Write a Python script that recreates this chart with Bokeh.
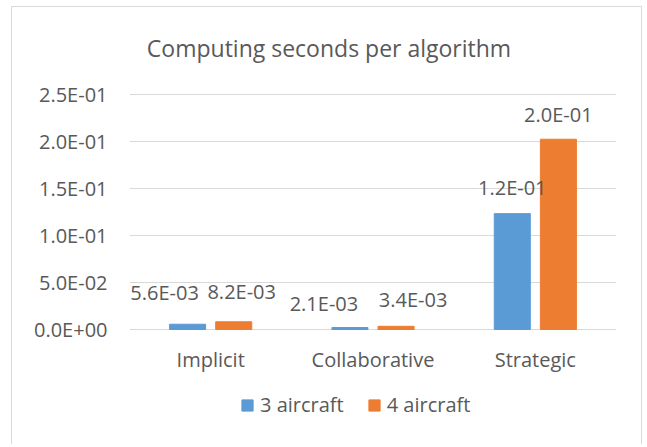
from bokeh.plotting import figure
from bokeh.models import (ColumnDataSource, FactorRange, Range1d, LabelSet, Label,
                          Legend, LegendItem, FixedTicker)
from bokeh.core.properties import value
from bokeh.transform import dodge
from bokeh.embed import file_html
from bokeh.resources import INLINE

# ---- data ----
categories = ["Implicit", "Collaborative", "Strategic"]
series_names = ["3 aircraft", "4 aircraft"]
aircraft3 = [0.0056, 0.0021, 0.123]
aircraft4 = [0.0082, 0.0034, 0.202]
y_ticks = [0.0, 0.05, 0.10, 0.15, 0.20, 0.25]
y_tick_labels = ["0.0E+00", "5.0E-02", "1.0E-01", "1.5E-01", "2.0E-01", "2.5E-01"]
title_text = "Computing seconds per algorithm"

# ---- style ----
FONT = "Open Sans"
TXT = "#595959"
GRID = "#D9D9D9"
BLUE = "#5B9BD5"
ORANGE = "#ED7D31"

# data-label nudges in pixels (as placed in the original chart)
label_dx3 = [-23, -26, 0]
label_dx4 = [8, 17, 0]
label_dy3 = [24, 17, 19]
label_dy4 = [23, 19, 17]

# layout (pixels); the frame spans the whole figure height
W, H = 631, 438
TOP_TICK_PX = 86.5      # frame top -> top tick
ZERO_PX = 322.0         # frame top -> zero line
scale = (ZERO_PX - TOP_TICK_PX) / y_ticks[-1]
y_hi = y_ticks[-1] + TOP_TICK_PX / scale
y_lo = -(H - ZERO_PX) / scale

src = ColumnDataSource(dict(
    cat=categories,
    a3=aircraft3,
    a4=aircraft4,
    l3=[f"{v:.1E}" for v in aircraft3],
    l4=[f"{v:.1E}" for v in aircraft4],
    dx3=label_dx3, dx4=label_dx4, dy3=label_dy3, dy4=label_dy4,
))

p = figure(x_range=FactorRange(*categories, range_padding=0),
           y_range=Range1d(y_lo, y_hi),
           width=W, height=H, output_backend="svg", toolbar_location=None,
           min_border_left=117, min_border_right=27,
           min_border_top=0, min_border_bottom=0, title=None)
p.outline_line_color = None
p.background_fill_color = "white"
p.border_fill_color = "white"
p.styles = {"border-left": f"1px solid {GRID}", "border-right": f"1px solid {GRID}",
            "border-top": f"1px solid {GRID}", "margin-left": "11px",
            "margin-top": "6px"}

ticker = FixedTicker(ticks=y_ticks)
p.yaxis.ticker = ticker
p.yaxis.major_label_overrides = {t: s for t, s in zip(y_ticks, y_tick_labels)}
p.yaxis.axis_line_color = None
p.yaxis.major_tick_line_color = None
p.yaxis.major_tick_out = 0
p.yaxis.minor_tick_line_color = None
p.yaxis.minor_tick_out = 0
p.yaxis.major_label_standoff = 22
p.yaxis.major_label_text_font = FONT
p.yaxis.major_label_text_font_size = "20px"
p.yaxis.major_label_text_color = TXT

p.xaxis.visible = False
p.xgrid.visible = False
p.ygrid.ticker = ticker
p.ygrid.grid_line_color = GRID
p.ygrid.grid_line_width = 1

off = 0.142
bw = 0.222
r1 = p.vbar(x=dodge("cat", -off, range=p.x_range), top="a3", width=bw,
            source=src, fill_color=BLUE, line_color=BLUE)
r2 = p.vbar(x=dodge("cat", off, range=p.x_range), top="a4", width=bw,
            source=src, fill_color=ORANGE, line_color=ORANGE)

# value labels
for key, lab, d, dx, dy in (("a3", "l3", -off, "dx3", "dy3"),
                            ("a4", "l4", off, "dx4", "dy4")):
    p.add_layout(LabelSet(x=dodge("cat", d, range=p.x_range), y=key, text=lab,
                          source=src, x_offset=dx, y_offset=dy,
                          text_align="center", text_baseline="alphabetic",
                          text_font=value(FONT), text_font_size=value("20px"),
                          text_color=TXT))

# category labels (x axis)
p.add_layout(LabelSet(x="cat", y=0, text="cat", source=src, y_offset=-37,
                      text_align="center", text_baseline="alphabetic",
                      text_font=value(FONT), text_font_size=value("20px"),
                      text_color=TXT))

# title
p.add_layout(Label(x=199.5, y=H - 40, x_units="screen", y_units="screen",
                   text=title_text, text_align="center",
                   text_baseline="alphabetic", text_font=FONT,
                   text_font_size="23px", text_color=TXT))

legend = Legend(items=[LegendItem(label=series_names[0], renderers=[r1]),
                       LegendItem(label=series_names[1], renderers=[r2])],
                orientation="horizontal", location=(111, 27),
                padding=0, margin=0, spacing=23, glyph_width=14, glyph_height=14,
                label_standoff=6, border_line_color=None,
                background_fill_alpha=0, label_text_font=FONT,
                label_text_font_size="20px", label_text_color=TXT)
p.add_layout(legend)

open("out.html", "w").write(file_html(p, INLINE))
